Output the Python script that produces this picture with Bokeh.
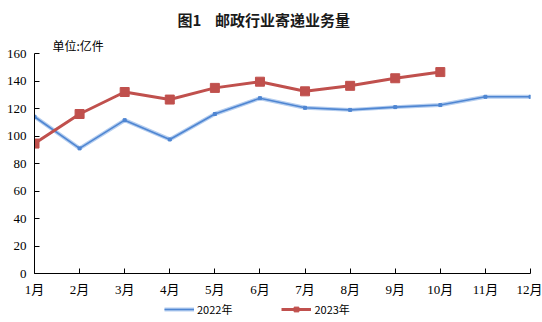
from bokeh.plotting import figure
from bokeh.layouts import column
from bokeh.models import Range1d, FixedTicker, Legend, LegendItem, Title
from bokeh.embed import file_html
from bokeh.resources import INLINE

months = ["1月", "2月", "3月", "4月", "5月", "6月", "7月", "8月", "9月", "10月", "11月", "12月"]
y2022 = [114, 91, 111.5, 97.5, 116, 127.5, 120.5, 119, 121, 122.5, 128.5, 128.5]
y2023 = [94.5, 116, 132, 126.5, 135, 139.5, 132.5, 136.5, 142, 146.5]
yticks = [0, 20, 40, 60, 80, 100, 120, 140, 160]
series_names = ["2022年", "2023年"]
title_text = "图1\u00a0\u00a0\u00a0\u00a0邮政行业寄递业务量"
unit_text = "单位:亿件"

x22 = list(range(1, len(y2022) + 1))
x23 = list(range(1, len(y2023) + 1))

BLUE = "#4F86D2"
BLUE_GLOW = "#B4CDEF"
RED = "#C0504D"

p = figure(width=542, height=300, output_backend="svg", toolbar_location=None,
           x_range=Range1d(1, 12), y_range=Range1d(0, 160),
           min_border_left=34, min_border_right=12, min_border_top=53, min_border_bottom=27)
p.outline_line_color = None
p.grid.grid_line_color = None
p.background_fill_color = "white"

p.title = Title(text=title_text, align="left", offset=143,
                text_font="Noto Sans CJK SC", text_font_size="15px",
                text_font_style="bold", text_color="#1a1a1a", standoff=9)
p.add_layout(Title(text=unit_text, align="left", offset=18,
                   text_font="Noto Sans CJK SC", text_font_size="12px",
                   text_font_style="normal", text_color="black", standoff=0), "above")

# axes
p.yaxis.ticker = FixedTicker(ticks=yticks)
p.xaxis.ticker = FixedTicker(ticks=x22)
p.xaxis.major_label_overrides = {i + 1: m for i, m in enumerate(months)}
for ax in (p.xaxis[0], p.yaxis[0]):
    ax.axis_line_color = "black"
    ax.major_tick_line_color = "black"
    ax.major_tick_in = 5
    ax.major_tick_out = 0
    ax.minor_tick_line_color = None
    ax.major_label_text_font = "Liberation Serif, Noto Sans CJK SC"
    ax.major_label_text_font_size = "13px"
    ax.major_label_text_color = "black"
p.yaxis.major_label_standoff = 8
p.xaxis.major_label_standoff = 8

# 2022 line with soft glow
p.line(x22, y2022, line_color=BLUE_GLOW, line_width=4)
p.line(x22, y2022, line_color=BLUE, line_width=1.6)
p.scatter(x22, y2022, marker="square", size=3, color=BLUE)

# 2023 line
p.line(x23, y2023, line_color=RED, line_width=3)
p.scatter(x23, y2023, marker="square", size=9, color=RED)

# legend strip below (dummy renderers sit outside the visible range)
p2 = figure(width=542, height=22, output_backend="svg", toolbar_location=None,
            x_axis_type=None, y_axis_type=None, x_range=Range1d(0, 1), y_range=Range1d(0, 1),
            min_border=0)
p2.outline_line_color = None
p2.grid.grid_line_color = None
l22a = p2.line([-5], [-5], line_color=BLUE_GLOW, line_width=4)
l22b = p2.line([-5], [-5], line_color=BLUE, line_width=1.5)
l23 = p2.line([-5], [-5], line_color=RED, line_width=3)
l23m = p2.scatter([-5], [-5], marker="square", size=8, color=RED)
legend = Legend(items=[LegendItem(label=series_names[0], renderers=[l22a, l22b]),
                       LegendItem(label=series_names[1], renderers=[l23, l23m])],
                orientation="horizontal", location=(130, 5),
                padding=0, margin=0, spacing=49, glyph_width=30, glyph_height=12,
                label_height=12, label_standoff=3, border_line_color=None,
                background_fill_alpha=0,
                label_text_font="Noto Sans CJK SC", label_text_font_size="11px",
                label_text_color="black")
p2.add_layout(legend, "center")

layout = column(p, p2, spacing=0)
open("out.html", "w").write(file_html(layout, INLINE))
